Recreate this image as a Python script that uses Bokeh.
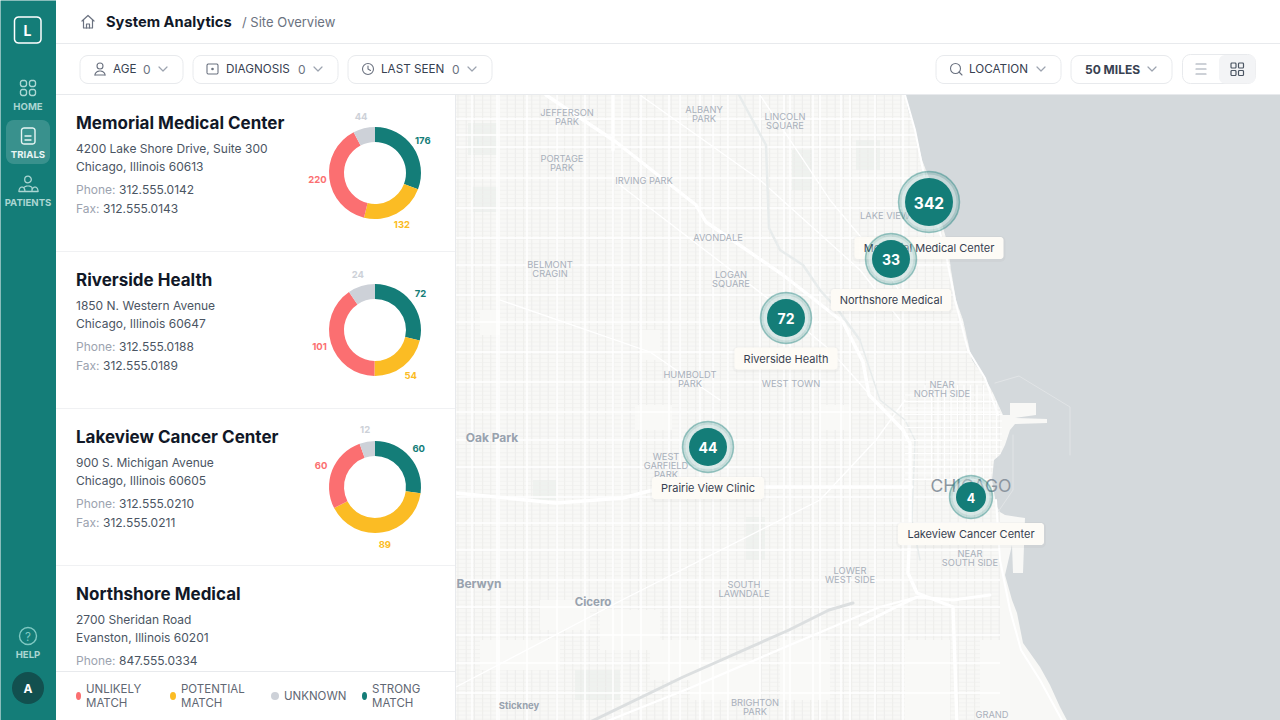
# -*- coding: utf-8 -*-
# site overview dashboard, everything on one figure in pixel coordinates
import numpy as np
from bokeh.core.properties import value
from bokeh.plotting import figure
from bokeh.models import Range1d
from bokeh.embed import file_html
from bokeh.resources import INLINE

# site list
site_names = ["Memorial Medical Center", "Riverside Health", "Lakeview Cancer Center", "Northshore Medical"]
site_addr1 = ["4200 Lake Shore Drive, Suite 300", "1850 N. Western Avenue", "900 S. Michigan Avenue", "2700 Sheridan Road"]
site_addr2 = ["Chicago, Illinois 60613", "Chicago, Illinois 60647", "Chicago, Illinois 60605", "Evanston, Illinois 60201"]
site_phone = ["312.555.0142", "312.555.0188", "312.555.0210", "847.555.0334"]
site_fax = ["312.555.0143", "312.555.0189", "312.555.0211"]

# donut values, clockwise from twelve o'clock
strong = [176, 72, 60]
potential = [132, 54, 89]
unlikely = [220, 101, 60]
unknown = [44, 24, 12]

# map markers
marker_names = ["Memorial Medical Center", "Northshore Medical", "Riverside Health", "Prairie View Clinic", "Lakeview Cancer Center"]
marker_counts = [342, 33, 72, 44, 4]
marker_x = [929, 891, 786, 708, 971]
marker_y = [202, 259, 318, 447, 497]

TEAL = "#147d78"
YELLOW = "#fbbc24"
RED = "#fb6f71"
GREY = "#cdd1d8"
LAND = "#f8f8f6"
LAKE = "#d4d9dc"
LABEL = "#a9b0bb"
UI_FONT = "Inter"

# half a pixel into the ranges so the frame lines up with the reference
p = figure(width=1280, height=720, x_range=Range1d(0.5, 1280.5), y_range=Range1d(720.5, 0.5),
           output_backend="svg", toolbar_location=None, min_border=0,
           x_axis_location=None, y_axis_location=None, outline_line_color=None)
p.grid.visible = False
p.background_fill_color = "white"
p.styles = {"position": "absolute", "left": "0px", "top": "0px"}


def txt(x, y, s, size, color, style="normal", align="left", font=UI_FONT):
    p.text([x], [y], text=[s], text_font=value(font), text_font_size="%gpx" % size, text_color=color,
           text_font_style=style, text_align=align, text_baseline="middle")


def rr(x0, y0, x1, y1, r):
    a = np.linspace(0, np.pi / 2, 7)
    xs = np.concatenate([x1 - r + r * np.sin(a), x1 - r + r * np.cos(a), x0 + r - r * np.sin(a), x0 + r - r * np.cos(a)])
    ys = np.concatenate([y0 + r - r * np.cos(a), y1 - r + r * np.sin(a), y1 - r + r * np.cos(a), y0 + r - r * np.sin(a)])
    return xs, ys


def box(x0, y0, x1, y1, r=0, fill="white", line=None, w=1, alpha=1.0):
    xs, ys = rr(x0, y0, x1, y1, r) if r else ([x0, x1, x1, x0], [y0, y0, y1, y1])
    p.patch(xs, ys, fill_color=fill, fill_alpha=alpha, line_color=line, line_width=w)


def ln(xs, ys, color, w=1.0, alpha=1.0):
    p.line(xs, ys, line_color=color, line_width=w, line_alpha=alpha, line_cap="round", line_join="round")


def ring(x, y, r, color, w=1.0):
    p.circle([x], [y], radius=r, fill_alpha=0, line_color=color, line_width=w)


def chevron(x, y, color="#9ca3af"):
    ln([x - 4, x, x + 4], [y - 2, y + 2, y - 2], color, 1.2)


# ---- map ----
box(456, 95, 1290, 730, fill=LAND)

# parks
parks = [(468, 123, 497, 155), (472, 187, 498, 212), (533, 480, 556, 500), (746, 517, 765, 560),
         (575, 670, 620, 700), (792, 150, 812, 190), (856, 140, 880, 170)]
for b in parks:
    box(*b, fill="#eff2ef")

# fine street grid
fine_v = np.arange(458, 1000, 8.2)
fine_h = np.arange(96, 724, 4.1)
p.multi_line([[x, x] for x in fine_v], [[95, 724] for x in fine_v], line_color="#e9e9e7", line_width=0.7)
p.multi_line([[456, 1000] for y in fine_h], [[y, y] for y in fine_h], line_color="#eeeeec", line_width=0.6)

blanks = [(480, 310, 500, 335), (640, 330, 660, 360), (635, 405, 672, 430), (820, 405, 850, 430),
          (540, 600, 590, 630), (480, 640, 560, 670), (650, 640, 700, 680), (690, 660, 760, 700),
          (780, 640, 830, 700), (905, 640, 950, 724), (980, 640, 1010, 724), (600, 610, 660, 650)]
for b in blanks:
    box(*b, fill="#f9f9f7")

# arterials
art_v = [472, 499, 527, 557, 585, 641, 669, 713, 728, 784, 813, 841, 875, 903, 497, 613, 622, 680, 700, 760, 790, 820, 850]
art_h = [119, 135, 147, 178, 208, 238, 265, 295, 322, 352, 382, 412, 440, 467, 497, 523, 550, 580, 607, 635, 663, 693]
p.multi_line([[x, x] for x in art_v], [[95, 724] for x in art_v], line_color="#ffffff", line_width=1.5)
p.multi_line([[456, 1000] for y in art_h], [[y, y] for y in art_h], line_color="#ffffff", line_width=1.5)

# diagonals
diag = [([456, 622, 820, 876, 905], [687, 600, 500, 440, 400]),
        ([616, 770, 830, 870], [182, 300, 350, 395]),
        ([640, 760, 860, 900], [95, 180, 270, 320]),
        ([500, 650, 720], [300, 352, 400]),
        ([760, 830, 880, 905], [95, 200, 260, 300])]
for xs, ys in diag:
    ln(xs, ys, "#ffffff", 1.3)

# river
ln([739, 766, 769, 780, 803, 820, 838, 860], [95, 145, 228, 250, 265, 290, 310, 340], "#e8ecec", 2.5)
ln([860, 880, 905, 915, 912, 920], [340, 400, 420, 440, 520, 560], "#e8ecec", 1.5)

# rail band south west
ln([586, 683, 789, 829, 853], [724, 677, 630, 610, 603], "#dcdfe0", 3)
ln([600, 690, 790, 880, 917], [724, 688, 645, 607, 597], "#ffffff", 2.2)

# expressways
ln([546, 616, 696, 706, 783, 843, 863, 869, 877, 903, 910, 910, 908, 917, 953, 957],
   [95, 142, 205, 222, 275, 322, 362, 395, 403, 430, 443, 527, 573, 593, 607, 724], "#ffffff", 3.4)
ln([456, 556, 623, 653, 763, 876, 912], [493, 503, 498, 490, 487, 487, 487], "#ffffff", 3.4)
ln([613, 613], [95, 150], "#ffffff", 3.4)
ln([860, 900, 917, 953, 990], [625, 605, 597, 600, 595], "#ffffff", 3.0)

# downtown streets, brighter
dt_v = np.arange(925, 1002, 6.5)
dt_h = np.arange(395, 480, 6.5)
p.multi_line([[x, x] for x in dt_v], [[385, 480] for x in dt_v], line_color="#ffffff", line_width=1.2)
p.multi_line([[905, 1002] for y in dt_h], [[y, y] for y in dt_h], line_color="#ffffff", line_width=1.2)

# lake
shore_x = [905, 908, 915, 922, 932, 940, 948, 951, 956, 963, 972, 985, 993, 1003, 1010, 1010, 1036, 1036, 1015, 1047, 1047, 1015, 1010,
           1005, 1000, 994, 992, 996, 1000, 1005, 1025, 1023, 1013, 1012, 1005, 1012, 1017, 1023, 1040, 1050, 1060, 1069]
shore_y = [95, 110, 130, 160, 185, 217, 245, 270, 300, 320, 360, 378, 393, 415, 415, 403, 403, 415, 418, 419, 423, 424, 430,
           445, 455, 460, 480, 505, 512, 515, 518, 573, 573, 545, 575, 600, 613, 643, 667, 685, 707, 724]
p.patch(shore_x + [1290, 1290], shore_y + [724, 95], fill_color=LAKE, line_color=None)

# breakwaters and shore road
ln([995, 1019, 1070, 1070], [383, 376, 407, 455], "#e1e4e6", 1)
ln([1013, 1013, 998], [435, 490, 512], "#e1e4e6", 1)
ln([905, 915, 926, 945, 955, 968, 985, 998], [95, 130, 185, 250, 300, 350, 378, 415], "#ffffff", 2)
ln([996, 1000, 1010, 1021, 1040, 1064], [500, 560, 610, 650, 680, 724], "#ffffff", 2)

# map place names
map_labels = ["JEFFERSON", "PARK", "ALBANY", "PARK", "LINCOLN", "SQUARE", "PORTAGE", "PARK", "IRVING PARK", "AVONDALE",
              "LAKE VIEW", "BELMONT", "CRAGIN", "LOGAN", "SQUARE", "HUMBOLDT", "PARK", "WEST TOWN", "NEAR", "NORTH SIDE",
              "WEST", "GARFIELD", "PARK", "NEAR", "SOUTH SIDE", "SOUTH", "LAWNDALE", "LOWER", "WEST SIDE", "BRIGHTON", "PARK", "GRAND"]
map_label_x = [567, 567, 704, 704, 785, 785, 562, 562, 644, 718, 885, 550, 550, 731, 731, 690, 690, 791, 942, 942,
               666, 666, 666, 970, 970, 744, 744, 850, 850, 755, 755, 992]
map_label_y = [112, 121, 109, 118, 116, 125, 158, 167, 180, 237, 215, 264, 273, 274, 283, 374, 383, 383, 384, 393,
               456, 465, 474, 553, 562, 584, 593, 570, 579, 702, 711, 714]
for s, x, y in zip(map_labels, map_label_x, map_label_y):
    txt(x, y, s, 9.3, LABEL, align="center")

txt(492, 437, "Oak Park", 12, "#98a2ae", "bold", "center")
txt(479, 583, "Berwyn", 12, "#98a2ae", "bold", "center")
txt(593, 602, "Cicero", 11.5, "#98a2ae", "bold", "center")
txt(519, 705, "Stickney", 9.5, "#98a2ae", "bold", "center")
txt(971, 485, "CHICAGO", 17.5, "#8b959f", "normal", "center")

# marker name cards under the marker rings
card_w = [149, 120, 103, 112, 146]
card_y = [248, 300, 358.5, 488, 534]
for name, x, y, w in zip(marker_names, marker_x, card_y, card_w):
    box(x - w / 2 - 2, y - 12, x + w / 2 + 2, y + 14, 5, fill="#000000", alpha=0.025)
    box(x - w / 2, y - 11, x + w / 2, y + 11, 3, fill="#fdfbf6")
    txt(x, y, name, 11, "#374151", align="center")

# markers, core size steps with the count
for n, x, y in zip(marker_counts, marker_x, marker_y):
    core = 24 if n > 100 else (15 if n < 10 else 19)
    outer = core + 6.5
    p.circle([x], [y], radius=outer, fill_color=TEAL, fill_alpha=0.22, line_color=TEAL, line_alpha=0.4, line_width=1.5)
    p.circle([x], [y], radius=outer - 3, fill_color="white", fill_alpha=0.35, line_color=None)
    p.circle([x], [y], radius=core, fill_color=TEAL, line_color=None)
    txt(x, y + 0.5, str(n), 15.5 if n > 100 else (12.5 if n < 10 else 14), "white", "bold", "center")

# ---- left list panel ----
box(56, 95, 456, 730, fill="white")
p.line([455.5, 455.5], [95, 724], line_color="#e8eaed", line_width=1)

row_top = [123, 280, 437, 594]
for i, name in enumerate(site_names):
    y = row_top[i]
    txt(76, y, name, 17, "#111827", "bold")
    txt(76, y + 25, site_addr1[i], 12, "#4b5563")
    txt(76, y + 43, site_addr2[i], 12, "#4b5563")
    txt(76, y + 66, "Phone:", 12, "#9ca3af")
    txt(119, y + 66, site_phone[i], 12, "#4b5563")
    if i < len(site_fax):
        txt(76, y + 85, "Fax:", 12, "#9ca3af")
        txt(103, y + 85, site_fax[i], 12, "#4b5563")
        p.line([56, 455], [y + 128.5, y + 128.5], line_color="#f0f1f3", line_width=1)

donut_x = 375
donut_y = [173, 330, 487]
seg_colors = [TEAL, YELLOW, RED, GREY]
for i, cy in enumerate(donut_y):
    vals = np.array([strong[i], potential[i], unlikely[i], unknown[i]], dtype=float)
    cum = np.concatenate([[0], np.cumsum(vals)]) / vals.sum() * 2 * np.pi
    p.annular_wedge([donut_x] * 4, [cy] * 4, inner_radius=31, outer_radius=46,
                    start_angle=np.pi / 2 - cum[:-1], end_angle=np.pi / 2 - cum[1:], direction="clock",
                    fill_color=seg_colors, line_color=None)
    mid = (cum[:-1] + cum[1:]) / 2
    for v, m, c in zip(vals, mid, seg_colors):
        txt(donut_x + 58 * np.sin(m), cy - 58 * np.cos(m), str(int(v)), 9.5, c, "bold", "center")

# legend strip
box(56, 671, 455, 730, fill="white")
p.line([56, 455], [671.5, 671.5], line_color="#e8eaed", line_width=1)
legend_labels = [["UNLIKELY", "MATCH"], ["POTENTIAL", "MATCH"], ["UNKNOWN"], ["STRONG", "MATCH"]]
legend_colors = [RED, YELLOW, GREY, TEAL]
legend_dot_x = [78.5, 173, 275, 364.5]
legend_dot_w = [5, 6, 8, 5]
legend_text_x = [86, 181, 284, 372]
for lab, c, dx, dw, tx in zip(legend_labels, legend_colors, legend_dot_x, legend_dot_w, legend_text_x):
    p.ellipse([dx], [696], width=dw, height=8, fill_color=c, line_color=None)
    if len(lab) == 2:
        txt(tx, 689, lab[0], 11.5, "#5f6773")
        txt(tx, 703, lab[1], 11.5, "#5f6773")
    else:
        txt(tx, 696, lab[0], 11.5, "#5f6773")

# ---- header ----
box(56, -5, 1290, 95, fill="white")
p.line([56, 1290], [43.5, 43.5], line_color="#e8eaed", line_width=1)
p.line([56, 1290], [94.5, 94.5], line_color="#e8eaed", line_width=1)
ln([82, 88, 94], [21, 15.5, 21], "#6b7280", 1.2)
ln([83.5, 83.5, 92.5, 92.5], [20, 28, 28, 20], "#6b7280", 1.2)
ln([86.5, 86.5, 89.5, 89.5], [28, 24, 24, 28], "#6b7280", 1.2)
txt(106, 22, "System Analytics", 14.7, "#111827", "bold")
txt(242, 22, "/ Site Overview", 13, "#6b7280")

# filter pills
pill_labels = ["AGE", "DIAGNOSIS", "LAST SEEN", "LOCATION"]
pill_counts = ["0", "0", "0", ""]
pill_x0 = [80, 193, 348, 936]
pill_x1 = [183, 338, 492, 1061]
pill_tx = [113, 226, 381, 969]
pill_nx = [143, 298, 452, 0]
pill_chev = [163, 318, 472, 1041]
for lab, n, x0, x1, tx, nx, cx in zip(pill_labels, pill_counts, pill_x0, pill_x1, pill_tx, pill_nx, pill_chev):
    box(x0, 55.5, x1, 83.5, 8, fill="white", line="#e8eaed")
    txt(tx, 69, lab, 11.7, "#374151")
    if n:
        txt(nx, 69.5, n, 12, "#6b7280")
    chevron(cx, 69)

box(1071, 55.5, 1172, 83.5, 8, fill="white", line="#e8eaed")
txt(1085, 69.5, "50 MILES", 12, "#374151", "bold")
chevron(1152, 69)

# pill icons
ring(100, 66, 3, "#6b7280", 1.1)
a = np.linspace(np.pi, 2 * np.pi, 12)
ln(100 + 5 * np.cos(a), 75 + 4 * np.sin(a), "#6b7280", 1.1)
ln([95, 105], [75, 75], "#6b7280", 1.1)
box(207, 64, 218, 74, 1.5, fill="white", line="#6b7280", w=1.1)
p.circle([212.5], [69], radius=1.3, fill_color="#6b7280", line_color=None)
ring(368, 69, 5.5, "#6b7280", 1.1)
ln([368, 368, 370.5], [66, 69, 70.5], "#6b7280", 1.1)
ring(955.5, 68.5, 5, "#6b7280", 1.1)
ln([959, 962], [72, 75], "#6b7280", 1.1)

# list / grid toggle
box(1182.5, 54.5, 1255.5, 83.5, 8, fill="white", line="#e8eaed")
box(1219, 55, 1255.5, 83.5, 6, fill="#f3f4f6")
for y in [64, 69, 74]:
    ln([1196, 1206], [y, y], "#9ca3af", 1.2)
for x0, y0 in [(1231, 63), (1238.5, 63), (1231, 70.5), (1238.5, 70.5)]:
    box(x0, y0, x0 + 5, y0 + 5, 1, fill="#f3f4f6", line="#4b5563", w=1.2)

# ---- sidebar ----
box(-5, -5, 56, 730, fill=TEAL)
box(14.5, 17, 41, 43, 4, fill=TEAL, line="white", w=1.5)
txt(27.5, 30.5, "L", 14, "white", "bold", "center")

NAV = "#abd6d2"
for x0, y0 in [(20.5, 80.5), (29.5, 80.5), (20.5, 89.5), (29.5, 89.5)]:
    box(x0, y0, x0 + 6, y0 + 6, 2, fill=TEAL, line=NAV, w=1.4)
txt(28, 106.5, "HOME", 9.6, NAV, "bold", "center")

box(6, 120, 50, 164, 8, fill="white", alpha=0.16)
box(21.5, 128, 35, 144, 2.5, fill="#3a9490", line="#e8f5f4", w=1.4)
ln([25, 31], [136, 136], "#e8f5f4", 1.3)
ln([25, 31], [140, 140], "#e8f5f4", 1.3)
txt(28, 154.5, "TRIALS", 9.6, "#e8f5f4", "bold", "center")

ring(28, 179.5, 3.3, NAV, 1.3)
a = np.linspace(np.pi, 2 * np.pi, 12)
ln(np.r_[19 + 3 * (1 + np.cos(a)), 24 + 4 * (1 + np.cos(a)), 32 + 3 * (1 + np.cos(a))],
   np.r_[191 + 4 * np.sin(a), 188 + 2 * np.sin(a), 191 + 4 * np.sin(a)], NAV, 1.2)
ln([19, 38], [191.5, 191.5], NAV, 1.3)
txt(28, 202.5, "PATIENTS", 9.6, NAV, "bold", "center")

ring(28, 636, 8.5, "#7fc8c2", 1.4)
txt(28, 636.5, "?", 11.5, "#7fc8c2", "normal", "center")
txt(28, 654.5, "HELP", 9.6, NAV, "bold", "center")
p.circle([28], [688], radius=16, fill_color="#12504f", line_color=None)
txt(28, 688.5, "A", 12, "white", "bold", "center")

open("out.html", "w").write(file_html(p, INLINE))
